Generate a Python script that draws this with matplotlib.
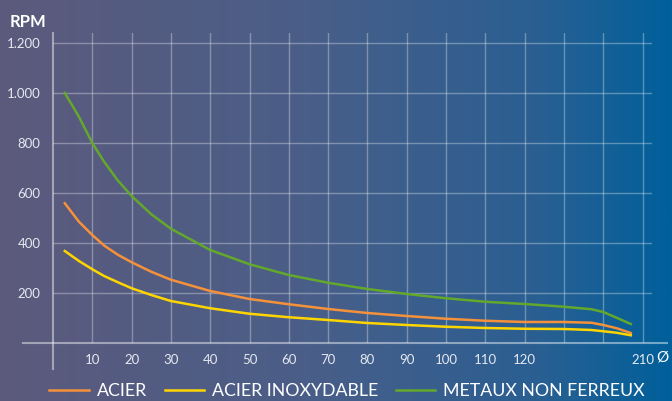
"""
RPM vs diameter chart for three material groups, on a gradient background
"""
import numpy as np
import matplotlib
matplotlib.use("Agg")
import matplotlib.pyplot as plt
from matplotlib.colors import LinearSegmentedColormap

# x positions on the chart (one grid step = 10); the last grid line is labelled 210
acier_x = [3, 6.6, 10, 13, 16.5, 20, 25, 30, 40, 50, 60, 70, 80, 90, 100, 110, 120, 130, 137, 140, 143.4, 147]
acier_y = [559, 485, 432, 390, 353, 323, 285, 253, 208, 176, 155, 136, 120, 108, 97, 89, 84, 84, 81, 72, 59, 40]

inox_x = [3, 6.6, 10, 13, 16.5, 20, 25, 30, 40, 50, 60, 70, 80, 90, 100, 110, 120, 130, 137, 140, 143.4, 147]
inox_y = [368, 328, 295, 268, 243, 219, 192, 168, 139, 117, 103, 92, 80, 72, 65, 60, 57, 56, 52, 47, 41, 31]

metaux_x = [3, 6.6, 10, 13, 16.5, 20, 25, 30, 40, 50, 60, 70, 80, 90, 100, 110, 120, 126.5, 130, 137, 140, 143.4, 147]
metaux_y = [1000, 905, 800, 725, 650, 588, 515, 457, 372, 315, 272, 241, 216, 196, 179, 165, 156, 149, 145, 135, 124, 101, 76]

x_ticks = [10, 20, 30, 40, 50, 60, 70, 80, 90, 100, 110, 120, 150]
x_tick_labels = ["10", "20", "30", "40", "50", "60", "70", "80", "90", "100", "110", "120", "210"]
x_grid = [10, 20, 30, 40, 50, 60, 70, 80, 90, 100, 110, 120, 130, 140, 150]
y_ticks = [200, 400, 600, 800, 1000, 1200]
y_tick_labels = ["200", "400", "600", "800", "1.000", "1.200"]

FONT = "Lato"
TXT = "#e6e8f0"
GRID = (1, 1, 1, 0.32)
AXIS = (1, 1, 1, 0.45)


def main():
    fig = plt.figure(figsize=(6.72, 4.01), dpi=100)

    # gradient background
    bg = fig.add_axes([0, 0, 1, 1], zorder=0)
    cmap = LinearSegmentedColormap.from_list("bg", [
        (0.0, "#5c5a7c"), (0.45, "#4a5e88"), (0.8, "#2a5f92"), (1.0, "#00609b")])
    bg.imshow(np.linspace(0, 1, 256).reshape(1, -1), aspect="auto", cmap=cmap,
              extent=[0, 1, 0, 1])
    bg.set_axis_off()

    ax = fig.add_axes([53 / 672, (401 - 343) / 401, 599 / 672, 310 / 401], zorder=1)
    ax.patch.set_alpha(0)
    ax.set_xlim(0, 152.4)
    ax.set_ylim(0, 1240)
    for s in ax.spines.values():
        s.set_visible(False)

    for gx in x_grid:
        ax.plot([gx, gx], [0, 1240], color=GRID, lw=1, zorder=1)
    for gy in y_ticks:
        ax.plot([0, 152.4], [gy, gy], color=GRID, lw=1, zorder=1)
    # axis lines running past the plot area
    ax.plot([-7.6, 156.2], [0, 0], color=AXIS, lw=1.5, clip_on=False, zorder=1)
    ax.plot([0, 0], [-104, 1240], color=AXIS, lw=1.5, clip_on=False, zorder=1)

    ax.plot(acier_x, acier_y, color="#f5913a", lw=1.8, label="ACIER", zorder=3)
    ax.plot(inox_x, inox_y, color="#ffd500", lw=1.8, label="ACIER INOXYDABLE", zorder=3)
    ax.plot(metaux_x, metaux_y, color="#63a82c", lw=1.8, label="METAUX NON FERREUX", zorder=3)

    ax.set_xticks(x_ticks)
    ax.set_xticklabels(x_tick_labels)
    ax.set_yticks(y_ticks)
    ax.set_yticklabels(y_tick_labels)
    ax.tick_params(length=0, colors=TXT, labelsize=9.5)
    ax.tick_params(axis="x", pad=8)
    ax.tick_params(axis="y", pad=9)
    for lab in ax.get_xticklabels() + ax.get_yticklabels():
        lab.set_fontfamily(FONT)

    fig.text(10 / 672, 1 - 22 / 401, "RPM", color="white", fontsize=12,
             fontweight="bold", family=FONT, va="center", ha="left")
    fig.text(662 / 672, 1 - 357 / 401, "Ø", color="white", fontsize=11,
             family=FONT, va="center", ha="center")

    leg = fig.legend(loc="center", bbox_to_anchor=(347 / 672, 1 - 391 / 401), ncol=3,
                     frameon=False, handlelength=2.2, columnspacing=1.0, handletextpad=0.45,
                     prop={"family": FONT, "size": 12.8})
    for t in leg.get_texts():
        t.set_color("white")

    fig.savefig("out.png", dpi=100)


if __name__ == "__main__":
    main()
